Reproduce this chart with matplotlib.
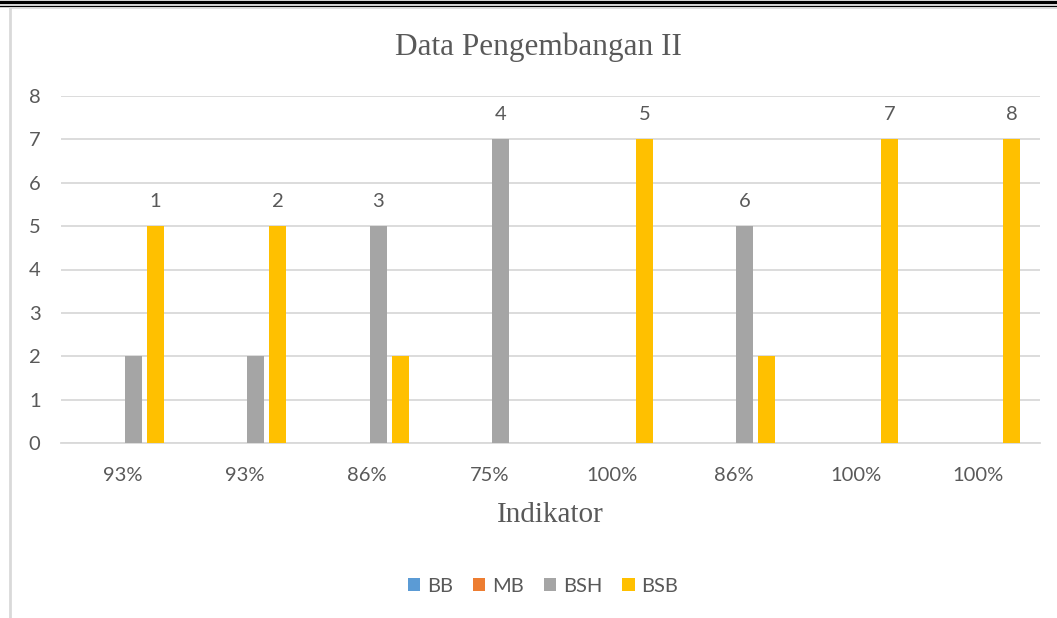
import matplotlib
matplotlib.use("Agg")
import matplotlib.pyplot as plt
from matplotlib.patches import Patch
from matplotlib.lines import Line2D
import numpy as np

categories = ["93%", "93%", "86%", "75%", "100%", "86%", "100%", "100%"]
series_names = ["BB", "MB", "BSH", "BSB"]
bb = [0, 0, 0, 0, 0, 0, 0, 0]
mb = [0, 0, 0, 0, 0, 0, 0, 0]
bsh = [2, 2, 5, 7, 0, 5, 0, 0]
bsb = [5, 5, 2, 0, 7, 2, 7, 7]
point_labels = ["1", "2", "3", "4", "5", "6", "7", "8"]
colors = ["#5B9BD5", "#ED7D31", "#A5A5A5", "#FFC000"]

W, H = 1057, 618
fig = plt.figure(figsize=(W / 100, H / 100), dpi=100)
text_color = "#595959"
tick_font = ["Lato", "DejaVu Sans"]

# frame decorations
fig.add_artist(Line2D([0, 1], [1 - 1.5 / H, 1 - 1.5 / H], transform=fig.transFigure, color="black", lw=2.4))
fig.add_artist(Line2D([0, 1], [1 - 5.5 / H, 1 - 5.5 / H], transform=fig.transFigure, color="black", lw=1.0))
fig.add_artist(Line2D([9.5 / W, 1], [1 - 8 / H, 1 - 8 / H], transform=fig.transFigure, color="#D9D9D9", lw=1.2))
fig.add_artist(Line2D([9.5 / W, 9.5 / W], [0, 1 - 8 / H], transform=fig.transFigure, color="#D9D9D9", lw=2.0))

left, right = 61.4 / W, 1039.6 / W
bottom, top = (H - 443) / H, (H - 96) / H
ax = fig.add_axes([left, bottom, right - left, top - bottom])

data = [bb, mb, bsh, bsb]
x = np.arange(len(categories))
step = 0.18
width = 0.14
for i, (vals, c, name) in enumerate(zip(data, colors, series_names)):
    ax.bar(x + (i - 1.5) * step, vals, width=width, color=c, label=name, zorder=3)

# data point numbers above the tallest bar of each category
for j in range(len(categories)):
    vals = [d[j] for d in data]
    k = int(np.argmax(vals))
    ax.annotate(point_labels[j], (x[j] + (k - 1.5) * step, vals[k]),
                xytext=(0, 18), textcoords="offset points",
                ha="center", va="center", fontsize=14.5, color=text_color,
                family=tick_font)

ax.set_xlim(-0.5, len(categories) - 0.5)
ax.set_ylim(0, 8)
ax.set_yticks(range(0, 9))
ax.set_xticks(x)
ax.set_xticklabels(categories)
ax.yaxis.grid(True, color="#D9D9D9", lw=1.3, zorder=0)
ax.set_axisbelow(True)
for s in ["top", "right", "left"]:
    ax.spines[s].set_visible(False)
ax.spines["bottom"].set_color("#D9D9D9")
ax.spines["bottom"].set_linewidth(1.3)
ax.tick_params(axis="both", length=0, labelcolor=text_color, labelsize=14.5)
ax.tick_params(axis="y", pad=15)
ax.tick_params(axis="x", pad=17)
for lab in ax.get_xticklabels() + ax.get_yticklabels():
    lab.set_family(tick_font)

fig.text(538 / W, 1 - 47 / H, "Data Pengembangan II", ha="center", va="center",
         fontsize=22.5, color=text_color, family="Liberation Serif")
fig.text(550 / W, 1 - 515 / H, "Indikator", ha="center", va="center",
         fontsize=21, color=text_color, family="Liberation Serif")

handles = [Patch(facecolor=c, edgecolor="none") for c in colors]
fig.legend(handles, series_names, loc="center", bbox_to_anchor=(543 / W, 1 - 586 / H),
           ncol=4, frameon=False, handlelength=0.6, handleheight=0.6,
           handletextpad=0.35, columnspacing=1.0,
           prop={"family": tick_font, "size": 14.5}, labelcolor=text_color)

fig.savefig("out.png", dpi=100)
